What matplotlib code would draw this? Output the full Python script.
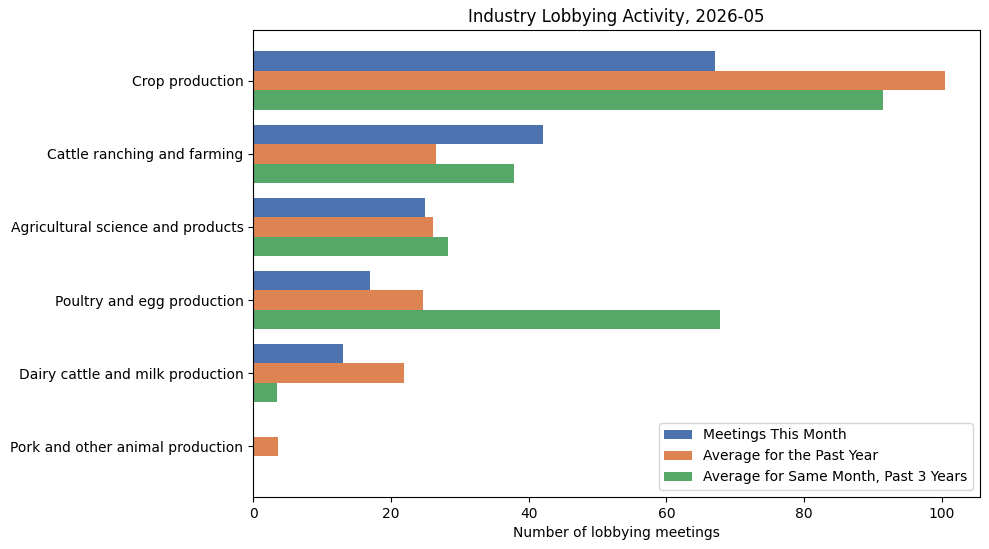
import numpy as np
import matplotlib.pyplot as plt

categories = [
    "Crop production",
    "Cattle ranching and farming",
    "Agricultural science and products",
    "Poultry and egg production",
    "Dairy cattle and milk production",
    "Pork and other animal production",
]
this_month = [67, 42, 25, 17, 13, 0]
past_year_avg = [100.5, 26.6, 26.1, 24.7, 21.9, 3.6]
same_month_3yr = [91.4, 37.9, 28.3, 67.7, 3.5, 0]

series = [
    ("Meetings This Month", this_month, "#4C72B0"),
    ("Average for the Past Year", past_year_avg, "#DD8452"),
    ("Average for Same Month, Past 3 Years", same_month_3yr, "#55A868"),
]

fig, ax = plt.subplots(figsize=(9.89, 5.49), dpi=100)
fig.subplots_adjust(left=0.256, right=0.991, top=0.945, bottom=0.095)

y = np.arange(len(categories))
h = 0.8 / 3
for i, (label, vals, color) in enumerate(series):
    ax.barh(y + (i - 1) * h, vals, height=h, color=color, label=label)

ax.set_yticks(y)
ax.set_yticklabels(categories)
ax.invert_yaxis()
ax.set_xlabel("Number of lobbying meetings")
ax.set_title("Industry Lobbying Activity, 2026-05")
ax.legend(loc="lower right")

fig.savefig("out.png")
